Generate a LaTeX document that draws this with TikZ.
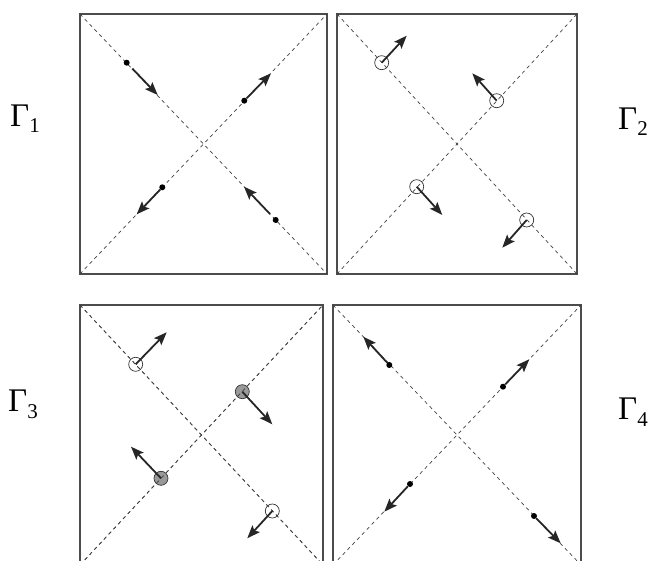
\documentclass[tikz,border=0pt]{standalone}
\usepackage{fontspec}
\setmainfont{Liberation Serif}
\usetikzlibrary{arrows.meta}
\newcommand{\gam}[1]{Γ\raisebox{-6pt}{\fontsize{21}{21}\selectfont #1}}
\tikzset{
    frame/.style={draw=black!70, line width=1.2pt},
    diag/.style={draw=black!75, dash pattern=on 3.5pt off 3.5pt, line width=0.7pt},
    spot/.style={circle, fill=black, inner sep=0pt, minimum size=6pt},
    ring/.style={circle, draw=black!80, inner sep=0pt, minimum size=14pt, line width=0.7pt},
    greyring/.style={ring, fill=black!40},
    vec/.style={-{Stealth[length=13pt,width=10pt,inset=2.5pt]}, line width=1.8pt, draw=black!85},
    lbl/.style={font=\fontsize{33}{33}\selectfont, inner sep=0pt, anchor=base west}
}
\begin{document}
\begin{tikzpicture}[x=1pt, y=-1pt]
    \path[use as bounding box] (0,0) rectangle (651,561);
    \clip (0,0) rectangle (651,561);

    % Panel corners
    \coordinate (p1nw) at (80,14);   \coordinate (p1se) at (327,274);
    \coordinate (p2nw) at (337,14);  \coordinate (p2se) at (577,274);
    \coordinate (p3nw) at (80,305);  \coordinate (p3se) at (323,565);
    \coordinate (p4nw) at (333,305); \coordinate (p4se) at (581,565);

    % Frames and diagonals
    \foreach \p in {1,2,3,4} {
        \draw[frame] (p\p nw) rectangle (p\p se);
        \draw[diag] (p\p nw) -- (p\p se);
        \draw[diag] (p\p nw |- p\p se) -- (p\p se |- p\p nw);
    }

    % Labels
    \node[lbl] (g1) at (10,127) {\gam{1}};
    \node[lbl] (g2) at (618,130) {\gam{2}};
    \node[lbl] (g3) at (8,412) {\gam{3}};
    \node[lbl] (g4) at (618,420) {\gam{4}};

    % Panel 1
    \node[spot] (a1) at (126.7,62.7) {};
    \node[spot] (a2) at (244.3,100.7) {};
    \node[spot] (a3) at (162.3,187.3) {};
    \node[spot] (a4) at (275.7,220) {};
    \coordinate (ta1) at (157.7,95);
    \coordinate (ta2) at (271,73.3);
    \coordinate (ta3) at (136.7,214.3);
    \coordinate (ta4) at (244,186.7);
    \draw[vec, shorten <=5pt] (a1) -- (ta1);
    \draw[vec] (a2) -- (ta2);
    \draw[vec] (a3) -- (ta3);
    \draw[vec, shorten <=5pt] (a4) -- (ta4);

    % Panel 2
    \node[ring] (b1) at (381.7,62.7) {};
    \node[ring] (b2) at (496.7,100.7) {};
    \node[ring] (b3) at (416.7,186.7) {};
    \node[ring] (b4) at (526.7,220) {};
    \coordinate (tb1) at (406.7,35.7);
    \coordinate (tb2) at (472.3,73.3);
    \coordinate (tb3) at (442.3,215);
    \coordinate (tb4) at (502.3,247.7);
    \foreach \i in {1,...,4}
        \draw[vec] (b\i.center) -- (tb\i);

    % Panel 3
    \node[ring] (c1) at (135.7,364.3) {};
    \node[greyring] (c2) at (242.3,391.7) {};
    \node[greyring] (c3) at (161,478.3) {};
    \node[ring] (c4) at (272.3,511) {};
    \coordinate (tc1) at (166.7,332.3);
    \coordinate (tc2) at (272.3,424.3);
    \coordinate (tc3) at (131,446.7);
    \coordinate (tc4) at (247.3,538.3);
    \draw[diag] (p3nw) -- (p3se);
    \draw[diag] (p3nw |- p3se) -- (p3se |- p3nw);
    \foreach \i in {1,...,4}
        \draw[vec] (c\i.center) -- (tc\i);

    % Panel 4
    \node[spot] (e1) at (389.3,365) {};
    \node[spot] (e2) at (503,386.7) {};
    \node[spot] (e3) at (410,484) {};
    \node[spot] (e4) at (534,516) {};
    \coordinate (te1) at (363.3,336.7);
    \coordinate (te2) at (529.3,359.3);
    \coordinate (te3) at (384.3,511.7);
    \coordinate (te4) at (560.7,543.3);
    \foreach \i in {1,...,4}
        \draw[vec] (e\i) -- (te\i);

\end{tikzpicture}
\end{document}
